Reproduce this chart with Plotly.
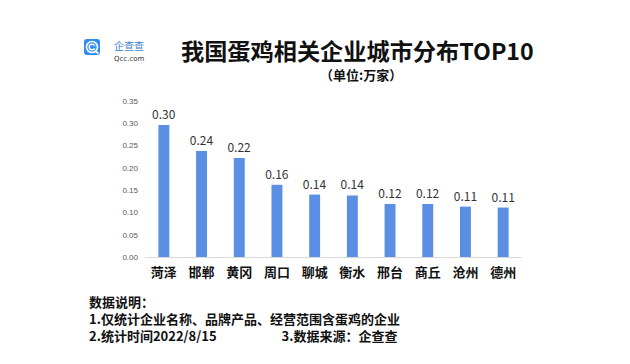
import plotly.graph_objects as go

cities = ["菏泽", "邯郸", "黄冈", "周口", "聊城", "衡水", "邢台", "商丘", "沧州", "德州"]
counts = [0.296, 0.238, 0.222, 0.162, 0.140, 0.138, 0.119, 0.119, 0.113, 0.111]
y_ticks = [0.00, 0.05, 0.10, 0.15, 0.20, 0.25, 0.30, 0.35]

title_text = "我国蛋鸡相关企业城市分布TOP10"
unit_text = "（单位:万家）"
notes = ["数据说明：", "1.仅统计企业名称、品牌产品、经营范围含蛋鸡的企业", "2.统计时间2022/8/15"]
source_text = "3.数据来源：企查查"

W, H = 630, 364
L, R, T, B = 145, 108, 101, 107
pw, ph = W - L - R, H - T - B

def px(x):
    return (x - L) / pw

def py(y):
    return (H - B - y) / ph

FONT = "Noto Sans CJK SC"
BAR = "#5B8FE3"

fig = go.Figure(go.Bar(
    x=cities, y=counts,
    marker=dict(color=BAR, line=dict(width=0)),
    width=0.29,
    texttemplate="%{y:.2f}", textposition="outside", constraintext="none",
    textfont=dict(family=FONT, size=12, color="#333333"),
    cliponaxis=False,
))

fig.update_layout(
    width=W, height=H,
    margin=dict(l=L, r=R, t=T, b=B),
    paper_bgcolor="white", plot_bgcolor="white",
    showlegend=False,
    font=dict(family=FONT),
    xaxis=dict(showgrid=False, showline=True, linecolor="#D9D9D9", linewidth=1,
               ticks="", tickfont=dict(family=FONT, size=13, color="#111111", weight="bold"),
               ticklabelstandoff=3),
    yaxis=dict(range=[0, 0.35], tickvals=y_ticks, tickformat=".2f", showgrid=False,
               showline=False, zeroline=False, ticks="", ticklabelstandoff=6,
               tickfont=dict(family="Liberation Sans", size=8, color="#595959")),
)

ann = []
ann.append(dict(text="<b>" + title_text + "</b>", x=px(357), y=py(50), xref="paper", yref="paper",
                showarrow=False, xanchor="center", yanchor="middle",
                font=dict(family=FONT, size=23.2, color="#111111")))
ann.append(dict(text="<b>" + unit_text + "</b>", x=px(361), y=py(75), xref="paper", yref="paper",
                showarrow=False, xanchor="center", yanchor="middle",
                font=dict(family=FONT, size=13, color="#111111")))
# logo text
ann.append(dict(text="企查查", x=px(112), y=py(45.5), xref="paper", yref="paper",
                showarrow=False, xanchor="left", yanchor="middle",
                font=dict(family=FONT, size=10, color="#3F7FD0")))
ann.append(dict(text="Qcc.com", x=px(112), y=py(58.5), xref="paper", yref="paper",
                showarrow=False, xanchor="left", yanchor="middle",
                font=dict(family="DejaVu Sans", size=7, color="#333333")))
# notes block (single text, third line also carries the source)
gap = "\u00a0" * 22
block = "<br>".join(["<b>" + notes[0] + "</b>", "<b>" + notes[1] + "</b>",
                     "<b>" + notes[2] + gap + source_text + "</b>"])
ann.append(dict(text=block, x=px(87), y=py(318), xref="paper", yref="paper",
                showarrow=False, xanchor="left", yanchor="middle", align="left",
                font=dict(family=FONT, size=13, color="#111111")))
fig.update_layout(annotations=ann)

# logo icon shapes
x0, x1, y0, y1 = 84, 100, 39, 55
r = 3
path = (f"M {px(x0+r)} {py(y0)} L {px(x1-r)} {py(y0)} Q {px(x1)} {py(y0)} {px(x1)} {py(y0+r)} "
        f"L {px(x1)} {py(y1-r)} Q {px(x1)} {py(y1)} {px(x1-r)} {py(y1)} "
        f"L {px(x0+r)} {py(y1)} Q {px(x0)} {py(y1)} {px(x0)} {py(y1-r)} "
        f"L {px(x0)} {py(y0+r)} Q {px(x0)} {py(y0)} {px(x0+r)} {py(y0)} Z")
shapes = [dict(type="path", path=path, xref="paper", yref="paper",
               fillcolor="#2D8CF0", line=dict(width=0))]
cx, cy = 92, 47
shapes.append(dict(type="circle", xref="paper", yref="paper",
                   x0=px(cx-5.5), x1=px(cx+5.5), y0=py(cy+5.5), y1=py(cy-5.5),
                   line=dict(color="white", width=1.6)))
shapes.append(dict(type="circle", xref="paper", yref="paper",
                   x0=px(cx-2.8), x1=px(cx+2.8), y0=py(cy+2.8), y1=py(cy-2.8),
                   line=dict(color="white", width=1.4)))
shapes.append(dict(type="line", xref="paper", yref="paper",
                   x0=px(cx+3), y0=py(cy+4), x1=px(cx+6.5), y1=py(cy+6.5),
                   line=dict(color="white", width=1.6)))
shapes.append(dict(type="rect", xref="paper", yref="paper",
                   x0=px(cx+1.2), x1=px(cx+3.5), y0=py(cy+1.3), y1=py(cy-1.3),
                   fillcolor="#2D8CF0", line=dict(width=0)))
fig.update_layout(shapes=shapes)

fig.write_html("out.html", config={"displayModeBar": False},
               post_script="document.body.style.margin='0';")
